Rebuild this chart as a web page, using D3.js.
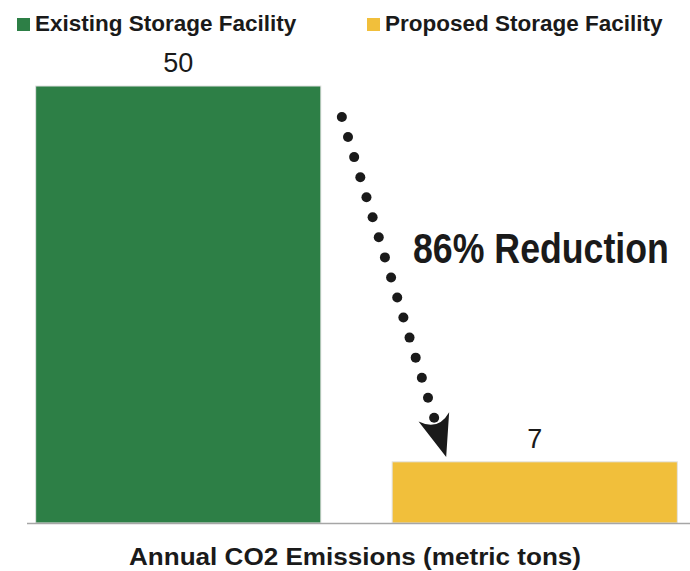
<!DOCTYPE html>
<html>
<head>
<meta charset="utf-8">
<script src="https://cdn.jsdelivr.net/npm/d3@7"></script>
<style>
  body { margin: 0; background: #fff; }
  svg { display: block; }
</style>
</head>
<body>
<svg id="chart" width="690" height="571"></svg>
<script>
// chart data
var categories = ["Existing Storage Facility", "Proposed Storage Facility"]
var values = [50, 7]
var colors = ["#2d7f46", "#f1bf3b"]
var reductionLabel = "86% Reduction"
var axisTitle = "Annual CO2 Emissions (metric tons)"

const WIDTH = 690,
	HEIGHT = 571
var chart = d3.select("#chart")

var x = d3.scaleBand()
	.domain(categories)
	.range([0, 713])
	.paddingInner(0.2)
	.paddingOuter(0.1)

var y = d3.scaleLinear()
	.domain([0, 50])
	.range([523, 86])

// bars
chart.selectAll("rect.bar").data(categories)
	.enter()
	.append("rect")
		.attr("class", "bar")
		.attr("x", d => x(d))
		.attr("y", (d, i) => y(values[i]))
		.attr("width", x.bandwidth())
		.attr("height", (d, i) => y(0) - y(values[i]))
		.attr("fill", (d, i) => colors[i])
		.attr("stroke", "#e2e2e2")
		.attr("stroke-width", 1)

// baseline
chart.append("line")
	.attr("x1", 27)
	.attr("x2", WIDTH)
	.attr("y1", y(0) + 0.5)
	.attr("y2", y(0) + 0.5)
	.attr("stroke", "#a6a6a6")
	.attr("stroke-width", 1.5)

// value labels
chart.selectAll("text.value").data(categories)
	.enter()
	.append("text")
		.attr("class", "value")
		.attr("x", d => x(d) + x.bandwidth() / 2)
		.attr("y", (d, i) => y(values[i]) - 14)
		.attr("text-anchor", "middle")
		.attr("font-family", "Liberation Sans, Arial, sans-serif")
		.attr("font-size", "27px")
		.attr("fill", "#1a1a1a")
		.text((d, i) => values[i])

// legend
var legendX = [17, 367]
var legend = chart.selectAll("g.legend").data(categories)
	.enter()
	.append("g")
		.attr("class", "legend")
		.attr("transform", (d, i) => "translate(" + legendX[i] + ",18)")
legend.append("rect")
	.attr("width", 13)
	.attr("height", 13)
	.attr("fill", (d, i) => colors[i])
legend.append("text")
	.attr("x", 18)
	.attr("y", 13)
	.attr("font-family", "Liberation Sans, Arial, sans-serif")
	.attr("font-weight", "bold")
	.attr("font-size", "22.5px")
	.attr("fill", "#1a1a1a")
	.text(d => d)

// dotted arrow from the existing bar down to the proposed bar
var x0 = x(categories[0]) + x.bandwidth() + 21,
	y0 = y(values[0]) + 31
var x1 = x(categories[1]) + 42,
	y1 = y(values[1]) - 44
var dx = x1 - x0, dy = y1 - y0
var nDots = 16
var dots = d3.range(nDots).map(i => [x0 + dx * i / (nDots - 1), y0 + dy * i / (nDots - 1)])
chart.selectAll("circle.dot").data(dots)
	.enter()
	.append("circle")
		.attr("class", "dot")
		.attr("cx", d => d[0])
		.attr("cy", d => d[1])
		.attr("r", 5)
		.attr("fill", "#1a1a1a")

var ang = Math.atan2(dy, dx) * 180 / Math.PI
chart.append("path")
	.attr("transform", "translate(" + x1 + "," + y1 + ") rotate(" + ang + ")")
	.attr("d", "M41,0 L-1,-16 Q14,0 -1,16 Z")
	.attr("fill", "#1a1a1a")

// annotation, squeezed horizontally to look condensed
chart.append("text")
	.attr("transform", "translate(413,263) scale(0.85,1)")
	.attr("font-family", "Liberation Sans, Arial, sans-serif")
	.attr("font-weight", "bold")
	.attr("font-size", "42px")
	.attr("fill", "#1a1a1a")
	.text(reductionLabel)

// axis title
chart.append("text")
	.attr("x", 355)
	.attr("y", 565)
	.attr("text-anchor", "middle")
	.attr("font-family", "Liberation Sans, Arial, sans-serif")
	.attr("font-weight", "bold")
	.attr("font-size", "23.5px")
	.attr("textLength", 452)
	.attr("lengthAdjust", "spacingAndGlyphs")
	.attr("fill", "#1a1a1a")
	.text(axisTitle)
</script>
</body>
</html>
